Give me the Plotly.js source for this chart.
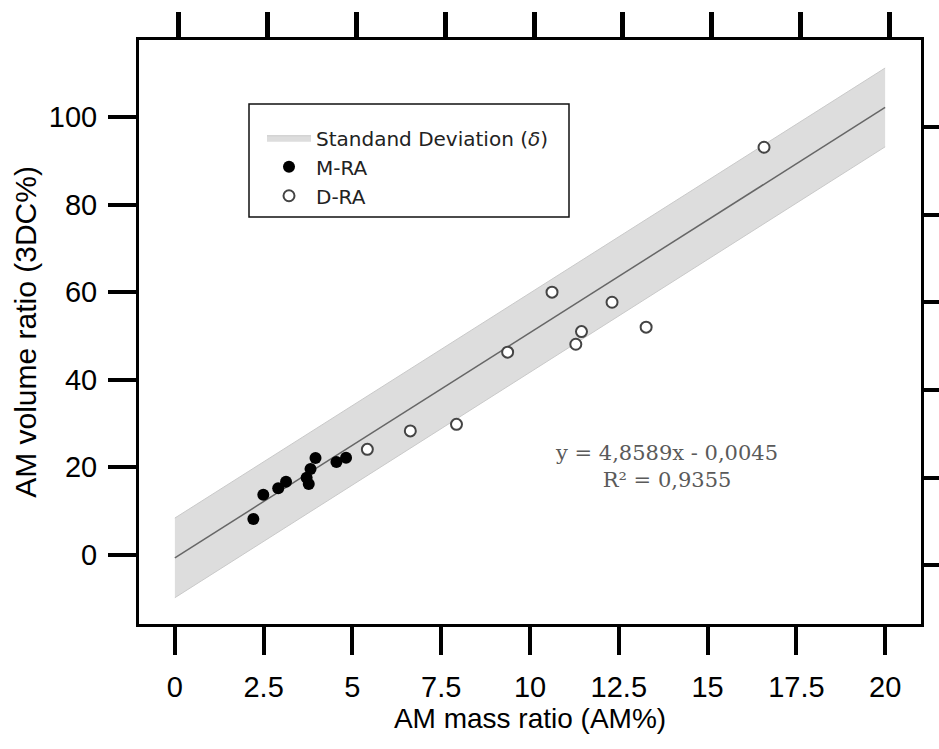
<!DOCTYPE html>
<html>
<head>
<meta charset="utf-8">
<script src="https://cdn.plot.ly/plotly-3.0.1.min.js"></script>
<style>html,body{margin:0;padding:0;background:#fff;}#chart{width:939px;height:749px;}</style>
</head>
<body>
<div id="chart"></div>
<script>
// ---- data ----
const mraX = [2.21, 2.49, 2.91, 3.13, 3.71, 3.77, 3.82, 3.96, 4.55, 4.82];
const mraY = [8.2, 13.7, 15.2, 16.7, 17.6, 16.2, 19.6, 22.1, 21.2, 22.2];

const draX = [5.42, 6.63, 7.93, 9.37, 10.62, 11.29, 11.45, 12.31, 13.27, 16.59];
const draY = [24.1, 28.3, 29.8, 46.3, 60.0, 48.1, 51.0, 57.7, 52.0, 93.1];

const fitX = [0, 20];
const fitY = [-0.7, 102.2];
const bandUpper = [8.4, 111.2];
const bandLower = [-9.8, 93.2];

const xTickVals = [0, 2.5, 5, 7.5, 10, 12.5, 15, 17.5, 20];
const xTickText = ['0', '2.5', '5', '7.5', '10', '12.5', '15', '17.5', '20'];
const yTickVals = [0, 20, 40, 60, 80, 100];
const yTickText = ['0', '20', '40', '60', '80', '100'];

const equationText = 'y = 4,8589x - 0,0045<br>R² = 0,9355';

// ---- traces ----
const traces = [
  {x: fitX, y: bandLower, mode: 'lines', line: {color: '#c9c9c9', width: 1},
   showlegend: false, hoverinfo: 'skip'},
  {x: fitX, y: bandUpper, mode: 'lines', line: {color: '#c9c9c9', width: 1},
   fill: 'tonexty', fillcolor: '#dddddd', name: 'Standand Deviation (<i>δ</i>)'},
  {x: fitX, y: fitY, mode: 'lines', line: {color: '#666666', width: 1.5},
   showlegend: false},
  {x: mraX, y: mraY, mode: 'markers', name: 'M-RA',
   marker: {color: '#000000', size: 12, line: {width: 0}}},
  {x: draX, y: draY, mode: 'markers', name: 'D-RA',
   marker: {color: '#ffffff', size: 11, line: {color: '#444444', width: 2}}},
  {x: [], y: [], xaxis: 'x2', yaxis: 'y2', showlegend: false, hoverinfo: 'skip'}
];

const axisFont = {family: 'Liberation Sans, Arial, sans-serif', size: 29, color: '#000'};

const layout = {
  width: 939, height: 749,
  margin: {l: 139, r: 18, t: 40, b: 125},
  paper_bgcolor: '#ffffff', plot_bgcolor: '#ffffff',
  showlegend: true,
  font: {family: 'Liberation Sans, Arial, sans-serif', color: '#000'},
  xaxis: {
    range: [-1.01, 21.01], tickmode: 'array', tickvals: xTickVals, ticktext: xTickText,
    ticks: 'outside', ticklen: 28, tickwidth: 4, tickcolor: '#000', ticklabelstandoff: 7,
    showline: true, mirror: true, linewidth: 3, linecolor: '#000',
    showgrid: false, zeroline: false, tickfont: axisFont,
    title: {text: 'AM mass ratio (AM%)', font: {family: 'Liberation Sans, Arial, sans-serif', size: 28, color: '#000'}, standoff: 2}
  },
  yaxis: {
    range: [-15.8, 117.6], tickmode: 'array', tickvals: yTickVals, ticktext: yTickText,
    ticks: 'outside', ticklen: 28, tickwidth: 4, tickcolor: '#000', ticklabelstandoff: 5,
    showline: true, mirror: true, linewidth: 3, linecolor: '#000',
    showgrid: false, zeroline: false, tickfont: axisFont,
    title: {text: 'AM volume ratio (3DC%)', font: {family: 'Liberation Sans, Arial, sans-serif', size: 30, color: '#000'}, standoff: 4}
  },
  xaxis2: {
    overlaying: 'x', side: 'top', anchor: 'y2',
    range: [-1.123, 20.897], tickmode: 'array', tickvals: xTickVals,
    ticks: 'outside', ticklen: 27, tickwidth: 5, tickcolor: '#000',
    showticklabels: false, showline: false, showgrid: false, zeroline: false
  },
  yaxis2: {
    overlaying: 'y', side: 'right', anchor: 'x2',
    range: [-13.4, 119.8], tickmode: 'array', tickvals: yTickVals,
    ticks: 'outside', ticklen: 22, tickwidth: 4, tickcolor: '#000',
    showticklabels: false, showline: false, showgrid: false, zeroline: false
  },
  legend: {
    x: (262 - 139) / 782, y: 0.866, xanchor: 'left', yanchor: 'top',
    bgcolor: 'rgba(0,0,0,0)', borderwidth: 0, traceorder: 'normal', itemwidth: 44,
    font: {family: 'DejaVu Sans, sans-serif', size: 20, color: '#222'},
    tracegroupgap: 0
  },
  shapes: [
    {type: 'rect', xref: 'paper', yref: 'paper', layer: 'below',
     x0: (249 - 139) / 782, x1: (569 - 139) / 782,
     y0: (624 - 217) / 584, y1: (624 - 104) / 584,
     line: {color: '#111', width: 1.5}, fillcolor: 'rgba(0,0,0,0)'}
  ],
  annotations: [
    {x: 13.83, y: 20.1, xref: 'x', yref: 'y', text: equationText, showarrow: false,
     align: 'center', font: {family: 'DejaVu Serif, serif', size: 21, color: '#5a5a5a'}}
  ]
};

Plotly.newPlot('chart', traces, layout, {displayModeBar: false, staticPlot: true});
</script>
</body>
</html>
